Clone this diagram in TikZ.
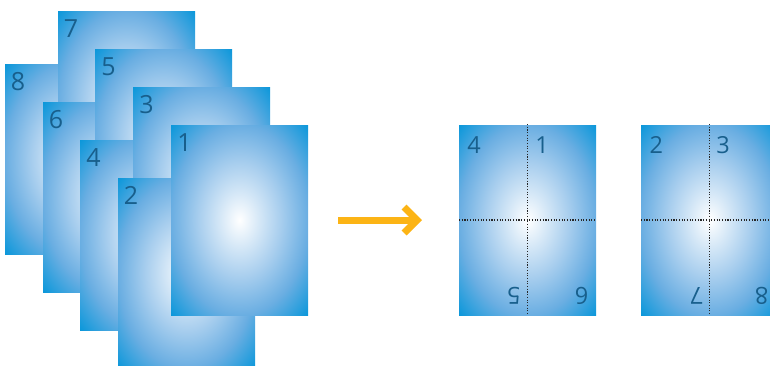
\documentclass[tikz,border=0pt]{standalone}
\usepackage{fontspec}
\setmainfont{Open Sans}
\usetikzlibrary{arrows.meta}
\definecolor{pgA}{HTML}{D6E8F7}
\definecolor{pgB}{HTML}{A8CEEE}
\definecolor{pgC}{HTML}{6AAEE2}
\definecolor{pgD}{HTML}{0A97DA}
\definecolor{numc}{HTML}{185F8C}
\definecolor{arrc}{HTML}{FCB415}
\pgfdeclareradialshading{pageshade}{\pgfpoint{0bp}{0bp}}{color(0bp)=(white); color(7bp)=(pgA); color(15bp)=(pgB); color(25bp)=(pgC); color(35.4bp)=(pgD); color(50bp)=(pgD)}
\tikzset{
  page/.style={shading=pageshade, shade, minimum width=137pt, minimum height=190pt, inner sep=0pt, outer sep=0pt, anchor=north west},
  num/.style={font=\fontsize{25}{25}\selectfont, text=numc, inner sep=0pt, anchor=base},
  snum/.style={font=\fontsize{23.5}{23.5}\selectfont, text=numc, inner sep=0pt, anchor=base},
  fold/.style={draw=black!85, line width=1.1pt, dash pattern=on 1.1pt off 1.6pt},
  bigarrow/.style={draw=arrc, line width=7pt, -{Straight Barb[length=13pt,width=26pt]}}
}
\begin{document}
\begin{tikzpicture}[x=1pt,y=-1pt]
\useasboundingbox (0,0) rectangle (770,365);
% stack of pages, bottom to top
\node[page] (p8) at (5,64) {};
\node[num] (n8) at (18,90) {8};
\node[page] (p7) at (58,11) {};
\node[num] (n7) at (71,37) {7};
\node[page] (p6) at (43,102) {};
\node[num] (n6) at (56,128) {6};
\node[page] (p5) at (95,49) {};
\node[num] (n5) at (108.5,75) {5};
\node[page] (p4) at (80,140) {};
\node[num] (n4) at (93.5,166) {4};
\node[page] (p3) at (133,87) {};
\node[num] (n3) at (146.5,113) {3};
\node[page] (p2) at (118,178) {};
\node[num] (n2) at (131,204) {2};
\node[page] (p1) at (171,125) {};
\node[num] (n1) at (184.5,151.5) {1};
% arrow
\coordinate (as) at (338,220);
\coordinate (ae) at (422,220);
\draw[bigarrow] (as) -- (ae);
% sheet A
\node[page] (sa) at (459,125) {};
\draw[fold] (sa.north) ++(0,-1) coordinate (sat) -- (sa.south);
\draw[fold] (sa.west) -- (sa.east);
\node[snum] (a4) at (474,153) {4};
\node[snum] (a1) at (542,153) {1};
\node[snum, rotate=180] (a5) at (514,287) {5};
\node[snum, rotate=180] (a6) at (581.7,287) {6};
% sheet B
\node[page] (sb) at (641,125) {};
\draw[fold] (sb.north) ++(0,-1) coordinate (sbt) -- (sb.south);
\draw[fold] (sb.west) -- (sb.east);
\node[snum] (b2) at (656.3,153) {2};
\node[snum] (b3) at (723,153) {3};
\node[snum, rotate=180] (b7) at (696.7,287) {7};
\node[snum, rotate=180] (b8) at (761.7,287) {8};
\end{tikzpicture}
\end{document}
